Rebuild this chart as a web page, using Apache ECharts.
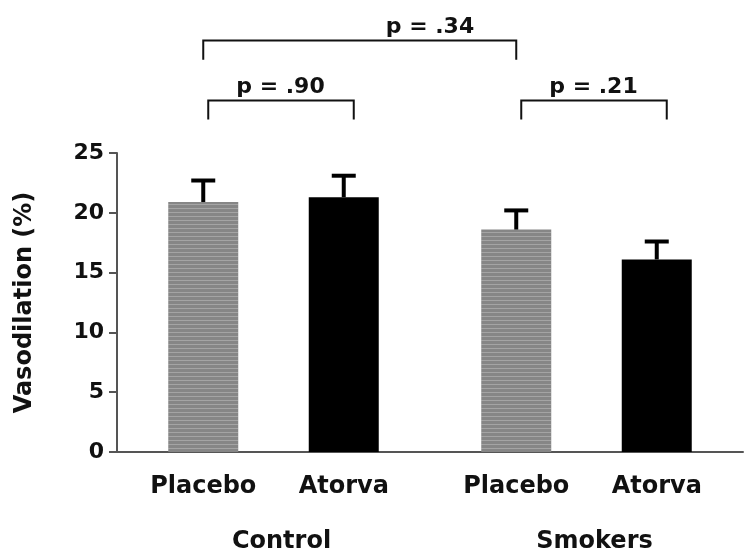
<!DOCTYPE html>
<html>
<head>
<meta charset="utf-8">
<script src="https://cdn.jsdelivr.net/npm/echarts@6/dist/echarts.min.js"></script>
<style>
html,body{margin:0;padding:0;background:#fff;}
#chart{width:752px;height:559px;}
</style>
</head>
<body>
<div id="chart"></div>
<script>
// ---- data ----
var groups = ['Control', 'Smokers'];
var seriesNames = ['Placebo', 'Atorva'];
var placeboMean = [20.9, 18.6];
var placeboErr = [1.8, 1.6];
var atorvaMean = [21.3, 16.1];
var atorvaErr = [1.8, 1.5];
var yTicks = [0, 5, 10, 15, 20, 25];
var yTitle = 'Vasodilation (%)';
// significance brackets: [groupIndex, barIndex(0=Placebo,1=Atorva)]
var pLabels = ['p = .90', 'p = .21', 'p = .34'];
var bracketFrom = [[0, 0], [1, 0], [0, 0]];
var bracketTo = [[0, 1], [1, 1], [1, 0]];
var labelFrom = [[0, 0], [1, 0], [0, 1]];
var labelTo = [[0, 1], [1, 1], [1, 0]];
var bracketLevel = [29.4, 29.4, 34.4];
var bracketDrop = 1.6;

// ---- styles ----
var FONT = 'DejaVu Sans';
var BAR_W = 70;
var BAR_STEP = 140.5; // centre-to-centre distance inside a group
var AXIS_COLOR = '#555';

var chart = echarts.init(document.getElementById('chart'), null, {renderer: 'canvas'});

function barX(api, g, b) {
  var c = api.coord([g, 0])[0];
  return c + (b === 0 ? -BAR_STEP / 2 : BAR_STEP / 2);
}

function errSeries(meanArr, errArr, b) {
  return {
    type: 'custom',
    z: 5,
    clip: false,
    data: meanArr.map(function (m, i) { return [i, m, m + errArr[i]]; }),
    renderItem: function (params, api) {
      var g = api.value(0);
      var x = barX(api, g, b);
      var y0 = api.coord([g, api.value(1)])[1];
      var y1 = api.coord([g, api.value(2)])[1];
      return {
        type: 'group',
        children: [
          {type: 'line', shape: {x1: x, y1: y0, x2: x, y2: y1}, style: {stroke: '#000', lineWidth: 4}},
          {type: 'line', shape: {x1: x - 12, y1: y1, x2: x + 12, y2: y1}, style: {stroke: '#000', lineWidth: 4}}
        ]
      };
    }
  };
}

var bracketData = pLabels.map(function (t, i) { return [i, bracketLevel[i]]; });

var option = {
  animation: false,
  backgroundColor: '#fff',
  grid: {left: 117, right: 9, top: 153, bottom: 107, containLabel: false},
  xAxis: {
    type: 'category',
    data: groups,
    axisLine: {lineStyle: {color: AXIS_COLOR, width: 2}},
    axisTick: {show: false},
    axisLabel: {margin: 78, padding: [0, 0, 0, 16], fontFamily: FONT, fontWeight: 'bold', fontSize: 24, color: '#111'}
  },
  yAxis: {
    type: 'value',
    min: 0, max: 25, interval: 5,
    name: yTitle,
    nameLocation: 'middle',
    nameRotate: 90,
    nameGap: 80,
    nameTextStyle: {fontFamily: FONT, fontWeight: 'bold', fontSize: 24, color: '#111'},
    axisLine: {show: true, lineStyle: {color: AXIS_COLOR, width: 2}},
    axisTick: {show: true, length: 8, lineStyle: {color: AXIS_COLOR, width: 2}},
    axisLabel: {margin: 13, fontFamily: FONT, fontWeight: 'bold', fontSize: 22, color: '#111',
      formatter: function (v) { return yTicks.indexOf(v) >= 0 ? String(v) : ''; }},
    splitLine: {show: false}
  },
  series: [
    {
      name: seriesNames[0], type: 'bar', data: placeboMean,
      barWidth: BAR_W, barGap: ((BAR_STEP - BAR_W) / BAR_W * 100) + '%',
      itemStyle: {color: '#868686', decal: {symbol: 'rect', symbolSize: 1, dashArrayX: [[1, 0]], dashArrayY: [1, 3], rotation: 0, color: 'rgba(255,255,255,0.25)'}},
      label: {show: true, position: 'bottom', distance: 23, formatter: '{a}', fontFamily: FONT, fontWeight: 'bold', fontSize: 24, color: '#111'}
    },
    {
      name: seriesNames[1], type: 'bar', data: atorvaMean,
      barWidth: BAR_W,
      itemStyle: {color: '#000'},
      label: {show: true, position: 'bottom', distance: 23, formatter: '{a}', fontFamily: FONT, fontWeight: 'bold', fontSize: 24, color: '#111'}
    },
    errSeries(placeboMean, placeboErr, 0),
    errSeries(atorvaMean, atorvaErr, 1),
    {
      type: 'custom',
      clip: false,
      z: 6,
      data: bracketData,
      renderItem: function (params, api) {
        var i = api.value(0);
        var lvl = api.value(1);
        var f = bracketFrom[i], t = bracketTo[i];
        var small = f[0] === t[0];
        var xa = barX(api, f[0], f[1]) + (small ? 5 : 0);
        var xb = barX(api, t[0], t[1]) + (small ? 10 : 0);
        var yTop = api.coord([0, lvl])[1];
        var yBot = api.coord([0, lvl - bracketDrop])[1];
        var lx = (barX(api, labelFrom[i][0], labelFrom[i][1]) + barX(api, labelTo[i][0], labelTo[i][1])) / 2 + (small ? 7 : 0);
        return {
          type: 'group',
          children: [
            {type: 'polyline', shape: {points: [[xa, yBot], [xa, yTop], [xb, yTop], [xb, yBot]]}, style: {stroke: '#111', lineWidth: 2, fill: null}},
            {type: 'text', style: {x: lx, y: yTop - 13, text: pLabels[i], align: 'center', verticalAlign: 'middle', font: 'bold 22px "' + FONT + '"', fill: '#111'}}
          ]
        };
      }
    }
  ]
};
chart.setOption(option);
</script>
</body>
</html>
